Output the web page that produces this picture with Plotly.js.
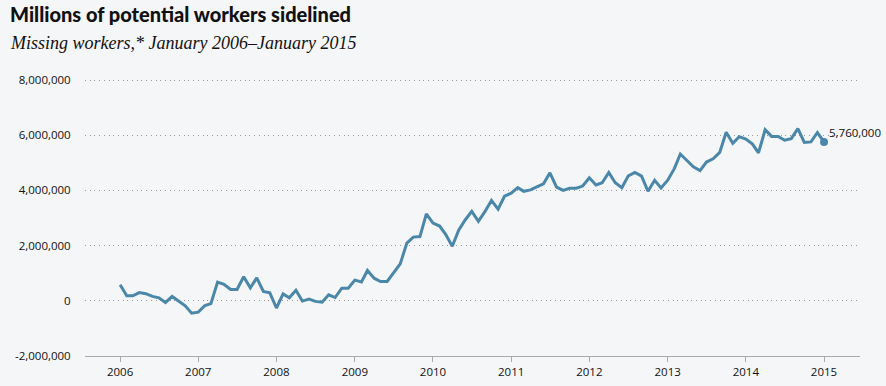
<!DOCTYPE html>
<html>
<head>
<meta charset="utf-8">
<script src="https://cdn.plot.ly/plotly-3.0.1.min.js"></script>
<style>
  html, body { margin: 0; padding: 0; background: #f5f6f8; }
  #chart { width: 886px; height: 386px; }
</style>
</head>
<body>
<div id="chart"></div>
<script>
// Missing workers, in millions, monthly from January 2006 to January 2015
const startYear = 2006;
const missingWorkersMillions = [
  // 2006
  0.58, 0.18, 0.18, 0.30, 0.26, 0.16, 0.11, -0.06, 0.16, -0.01, -0.18, -0.45,
  // 2007
  -0.41, -0.17, -0.10, 0.68, 0.60, 0.41, 0.41, 0.87, 0.47, 0.83, 0.34, 0.29,
  // 2008
  -0.26, 0.25, 0.11, 0.38, -0.01, 0.06, -0.02, -0.05, 0.22, 0.12, 0.46, 0.46,
  // 2009
  0.75, 0.68, 1.10, 0.82, 0.70, 0.70, 1.03, 1.34, 2.09, 2.31, 2.33, 3.15,
  // 2010
  2.82, 2.71, 2.41, 1.98, 2.56, 2.94, 3.24, 2.88, 3.24, 3.64, 3.32, 3.79,
  // 2011
  3.90, 4.10, 3.97, 4.02, 4.13, 4.24, 4.64, 4.12, 4.00, 4.08, 4.08, 4.16,
  // 2012
  4.46, 4.20, 4.28, 4.65, 4.28, 4.10, 4.53, 4.65, 4.52, 3.97, 4.37, 4.09,
  // 2013
  4.37, 4.79, 5.32, 5.09, 4.86, 4.72, 5.03, 5.15, 5.38, 6.11, 5.71, 5.95,
  // 2014
  5.86, 5.68, 5.36, 6.20, 5.96, 5.96, 5.82, 5.88, 6.24, 5.74, 5.76, 6.10,
  // 2015
  5.76
];
const yTickValues = [-2000000, 0, 2000000, 4000000, 6000000, 8000000];
const yTickLabels = ["-2,000,000", "0", "2,000,000", "4,000,000", "6,000,000", "8,000,000"];
const xTickYears = ["2006", "2007", "2008", "2009", "2010", "2011", "2012", "2013", "2014", "2015"];
const endLabel = "5,760,000";
const titleText = "Millions of potential workers sidelined";
const subtitleText = "Missing workers,* January 2006\u2013January 2015";

// month dates
const dates = missingWorkersMillions.map((_, i) => {
  const y = startYear + Math.floor(i / 12);
  const m = (i % 12) + 1;
  return y + "-" + String(m).padStart(2, "0") + "-01";
});
const values = missingWorkersMillions.map(v => Math.round(v * 1e6));
const lastIdx = values.length - 1;

const lineColor = "#4a87a8";
const topM = 79, botM = 30, leftM = 85, rightM = 26;
const plotH = 386 - topM - botM, plotW = 886 - leftM - rightM;

const traces = [
  {
    x: dates, y: values, type: "scatter", mode: "lines",
    line: { color: lineColor, width: 3, shape: "linear" },
    hoverinfo: "skip"
  },
  {
    x: [dates[lastIdx]], y: [values[lastIdx]], type: "scatter", mode: "markers",
    marker: { color: lineColor, size: 8 },
    hoverinfo: "skip"
  }
];

const layout = {
  width: 886, height: 386,
  paper_bgcolor: "#f5f6f8", plot_bgcolor: "#f5f6f8",
  margin: { l: leftM, r: rightM, t: topM, b: botM },
  showlegend: false,
  font: { family: "Open Sans, sans-serif", size: 11.5, color: "#111" },
  xaxis: {
    type: "date",
    range: ["2005-07-21", "2015-06-18"],
    tickvals: xTickYears.map(y => y + "-01-01"),
    ticktext: xTickYears,
    ticks: "outside", ticklen: 5, tickcolor: "#aaa", tickwidth: 1,
    showline: true, linecolor: "#aaa", linewidth: 1,
    showgrid: false, zeroline: false,
    tickfont: { family: "Open Sans, sans-serif", size: 11.5, color: "#111" }
  },
  yaxis: {
    range: [-2000000, 8040000],
    tickvals: yTickValues, ticktext: yTickLabels,
    ticks: "outside", ticklen: 11, tickcolor: "rgba(0,0,0,0)",
    showgrid: true, gridcolor: "#999", gridwidth: 1, griddash: "1px,3.7px",
    zeroline: false, showline: false,
    tickfont: { family: "Open Sans, sans-serif", size: 11.5, color: "#111" }
  },
  annotations: [
    {
      text: titleText, xref: "paper", yref: "paper",
      x: (8 - leftM) / plotW, y: 1 + (topM - 14) / plotH, xanchor: "left", yanchor: "middle",
      showarrow: false, font: { family: "Lato, sans-serif", size: 20, weight: 900, color: "#111" }
    },
    {
      text: "<i>" + subtitleText + "</i>", xref: "paper", yref: "paper",
      x: (8 - leftM) / plotW, y: 1 + (topM - 43) / plotH, xanchor: "left", yanchor: "middle",
      showarrow: false, font: { family: "Liberation Serif, serif", size: 18, color: "#111" }
    },
    {
      text: endLabel, x: dates[lastIdx], y: values[lastIdx], xref: "x", yref: "y",
      xanchor: "left", yanchor: "middle", xshift: 3, yshift: 9,
      showarrow: false, font: { family: "Open Sans, sans-serif", size: 11.5, color: "#111" }
    }
  ]
};

Plotly.newPlot("chart", traces, layout, { staticPlot: true, displayModeBar: false });
</script>
</body>
</html>
